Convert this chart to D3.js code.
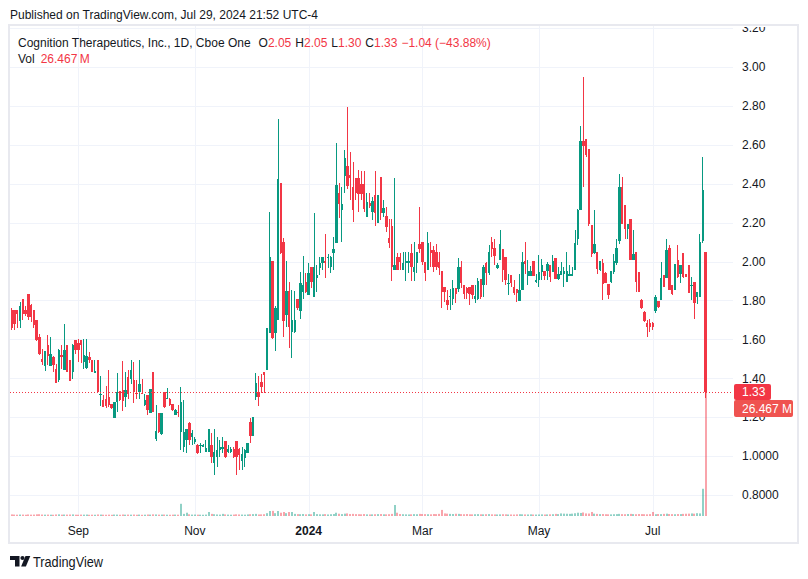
<!DOCTYPE html>
<html><head><meta charset="utf-8">
<script src="https://cdn.jsdelivr.net/npm/d3@7"></script>
<style>
html,body{margin:0;padding:0;background:#fff;}
svg{display:block;font-family:"Liberation Sans",Arial,sans-serif;}
</style></head><body>
<svg id="c" width="808" height="579"></svg>
<script>
// ---------- DATA ----------
const startDate = "2023-07-31", endDate = "2024-07-29";
const holidays = ["2023-09-04","2023-11-23","2023-12-25","2024-01-01","2024-01-15","2024-02-19","2024-03-29","2024-05-27","2024-06-19","2024-07-04"];

const open = [
1.75,1.75,1.75,1.694,1.809,1.749,1.831,1.779,1.749,1.697,
1.612,1.497,1.463,1.569,1.462,1.509,1.450,1.393,1.518,1.441,
1.569,1.492,1.433,1.598,1.581,1.598,1.484,1.455,1.509,1.496,
1.427,1.496,1.313,1.287,1.296,1.304,1.267,1.197,1.279,1.335,
1.339,1.304,1.404,1.395,1.390,1.325,1.330,1.325,1.262,1.313,
1.222,1.433,1.086,1.219,1.113,1.327,1.296,1.296,1.267,1.210,
1.227,
1.126,1.049,1.083,1.172,1.100,1.074,1.057,1.052,1.049,
1.023,1.023,1.057,0.963,0.997,1.032,1.035,1.078,1.023,1.023,
1.035,1.078,1.035,0.977,0.989,1.014,1.177,1.103,1.305,1.328,
1.383,1.434,1.442,1.631,2.002,1.631,1.699,2.405,2.102,1.725,
1.850,1.639,1.639,1.810,1.747,1.845,1.896,1.828,1.973,1.819,
1.917,1.965,1.990,2.004,2.016,1.973,2.042,2.096,2.353,2.264,
2.439,2.492,2.444,2.381,2.432,2.432,2.401,2.401,2.230,2.302,
2.256,2.341,2.199,
2.435,2.250,2.233,2.122,2.182,1.959,2.021,2.021,1.959,1.990,
1.990,2.042,1.947,1.990,2.090,2.101,1.999,1.956,2.059,2.059,
2.047,1.999,1.951,1.870,1.802,1.816,1.810,1.865,1.857,1.973,
1.879,1.862,1.870,1.879,1.810,1.810,1.908,1.879,1.990,1.939,
2.101,2.070,1.967,2.006,2.066,2.024,1.887,1.930,1.870,1.861,
1.798,1.853,2.001,1.924,1.924,2.001,1.895,1.904,1.947,1.952,
1.952,1.981,1.947,2.020,1.912,1.930,1.938,1.895,1.924,1.924,
1.959,2.118,2.266,2.622,2.631,2.579,2.186,2.044,2.049,
1.955,1.990,1.942,1.887,1.896,1.947,1.990,2.106,2.383,2.289,
2.169,2.220,2.007,2.048,1.947,1.801,1.742,1.682,1.682,1.682,
1.747,1.798,1.801,1.930,1.916,2.072,1.878,1.853,2.010,1.935,
2.046,1.938,1.981,1.875,1.896,1.819,1.819,2.104,2.05];

const high = [
1.76,1.75,1.75,1.79,1.809,1.77,1.831,1.78,1.75,1.70,
1.629,1.55,1.54,1.621,1.612,1.513,1.475,1.552,1.569,1.677,
1.569,1.492,1.578,1.598,1.603,1.598,1.603,1.603,1.535,1.496,
1.492,1.496,1.410,1.313,1.359,1.441,1.27,1.28,1.427,1.335,
1.489,1.433,1.441,1.496,1.484,1.390,1.496,1.398,1.321,1.313,
1.347,1.433,1.262,1.22,1.22,1.327,1.351,1.30,1.27,1.24,
1.262,
1.353,1.288,1.14,1.177,1.134,1.10,1.06,1.066,1.06,
1.083,1.138,1.117,1.138,1.100,1.083,1.100,1.08,1.057,1.049,
1.049,1.08,1.04,1.049,1.035,1.066,1.194,1.203,1.425,1.412,
1.422,1.434,1.656,2.256,2.002,1.771,2.732,2.405,2.119,2.002,
1.893,1.853,1.850,1.81,1.947,2.028,1.939,1.990,1.973,2.252,
1.982,2.021,2.024,2.141,2.038,2.028,2.127,2.607,2.405,2.384,
2.572,2.795,2.564,2.512,2.432,2.470,2.466,2.466,2.350,2.353,
2.333,2.466,2.341,
2.435,2.316,2.281,2.221,2.221,2.432,2.045,2.045,2.047,2.047,
2.047,2.090,2.101,2.047,2.281,2.101,1.999,2.153,2.101,2.079,
2.090,2.047,1.951,1.870,1.853,1.857,1.905,1.865,2.016,2.004,
1.879,1.870,1.870,1.879,1.879,1.913,1.908,1.982,1.999,2.083,
2.126,2.118,1.99,2.160,2.066,2.024,1.938,1.930,1.907,1.861,
1.938,2.049,2.101,2.006,1.976,2.001,1.938,2.032,2.015,1.952,
1.998,1.981,2.032,2.020,1.972,1.998,1.972,2.049,1.981,1.972,
2.160,2.272,2.699,2.950,2.631,2.579,2.186,2.266,2.049,
2.003,2.015,1.945,1.887,1.95,2.041,2.118,2.451,2.434,2.289,
2.191,2.220,2.161,2.048,1.947,1.805,1.745,1.699,1.707,1.690,
1.827,1.798,1.998,1.930,2.118,2.084,1.878,1.986,2.087,1.981,
2.046,1.938,1.981,1.921,1.896,1.841,2.140,2.537,2.05];

const low = [
1.65,1.65,1.66,1.658,1.70,1.72,1.70,1.69,1.66,1.59,
1.518,1.47,1.436,1.467,1.462,1.433,1.376,1.381,1.450,1.441,
1.433,1.386,1.398,1.527,1.484,1.479,1.450,1.450,1.480,1.433,
1.427,1.327,1.257,1.253,1.245,1.253,1.24,1.197,1.227,1.284,
1.231,1.253,1.296,1.373,1.274,1.296,1.296,1.321,1.257,1.210,
1.222,1.227,1.079,1.12,1.11,1.245,1.296,1.26,1.23,1.21,
1.202,
1.032,1.023,1.014,1.057,1.057,1.06,1.01,1.014,1.045,
1.023,1.023,0.963,0.903,0.946,0.997,1.014,0.99,1.014,1.014,
0.989,0.903,0.929,0.929,0.946,1.014,1.066,1.103,1.288,1.257,
1.323,1.323,1.442,1.631,1.600,1.542,1.699,2.04,1.614,1.665,
1.554,1.502,1.631,1.75,1.703,1.810,1.836,1.828,1.862,1.819,
1.845,1.930,1.956,1.913,1.965,1.942,1.956,2.096,2.226,2.102,
2.350,2.375,2.316,2.204,2.316,2.256,2.316,2.256,2.230,2.273,
2.216,2.182,2.199,
2.213,2.230,2.153,2.072,1.901,1.959,1.959,1.959,1.956,1.901,
1.939,1.901,1.901,1.939,2.042,1.982,1.901,1.956,1.973,1.947,
1.956,1.930,1.759,1.793,1.751,1.751,1.776,1.785,1.845,1.862,
1.810,1.810,1.776,1.810,1.785,1.802,1.810,1.819,1.879,1.930,
2.024,1.981,1.96,2.006,1.895,1.878,1.827,1.870,1.827,1.793,
1.798,1.853,1.938,1.878,1.924,1.924,1.890,1.870,1.904,1.904,
1.904,1.895,1.947,1.912,1.904,1.930,1.870,1.895,1.924,1.924,
1.959,2.083,2.266,2.383,2.537,2.181,2.024,2.041,1.938,
1.95,1.801,1.89,1.810,1.89,1.938,1.981,2.092,2.191,2.118,
2.118,2.007,2.007,1.844,1.844,1.755,1.69,1.613,1.639,1.648,
1.733,1.759,1.801,1.870,1.916,1.853,1.827,1.853,1.913,1.890,
1.913,1.921,1.836,1.801,1.707,1.784,1.819,2.096,1.30];

const close = [
1.66,1.68,1.73,1.769,1.732,1.732,1.715,1.715,1.672,1.595,
1.527,1.484,1.539,1.513,1.527,1.467,1.376,1.547,1.509,1.547,
1.433,1.386,1.569,1.544,1.547,1.569,1.518,1.513,1.492,1.433,
1.436,1.327,1.321,1.253,1.257,1.262,1.245,1.279,1.330,1.287,
1.284,1.339,1.321,1.441,1.330,1.321,1.369,1.321,1.287,1.236,
1.347,1.227,1.128,1.125,1.219,1.253,1.301,1.265,1.236,1.236,
1.219,
1.280,1.126,1.138,1.083,1.117,1.086,1.018,1.057,1.057,
1.040,1.138,0.997,1.023,1.032,1.049,1.049,0.997,1.035,1.035,
0.997,0.997,1.006,1.011,1.032,1.066,1.103,1.203,1.374,1.305,
1.357,1.417,1.656,2.024,1.605,1.763,2.423,2.042,1.696,1.850,
1.665,1.699,1.699,1.759,1.891,1.879,1.845,1.939,1.896,1.973,
1.930,1.990,2.024,1.990,2.021,2.024,2.067,2.393,2.295,2.298,
2.533,2.387,2.432,2.264,2.350,2.346,2.346,2.268,2.307,2.285,
2.310,2.250,2.341,
2.247,2.273,2.179,2.096,1.973,1.982,1.959,1.999,1.990,2.002,
2.002,1.970,1.970,2.047,2.067,1.999,1.939,2.096,2.042,1.970,
1.970,1.965,1.845,1.845,1.776,1.822,1.862,1.833,1.973,1.888,
1.833,1.836,1.833,1.828,1.822,1.901,1.816,1.973,1.939,2.050,
2.066,2.027,1.981,2.089,1.955,1.907,1.890,1.890,1.836,1.839,
1.856,1.998,1.989,1.952,1.952,1.924,1.907,1.947,1.981,1.924,
1.989,1.918,2.001,1.912,1.938,1.952,1.952,1.952,1.938,1.938,
2.095,2.266,2.619,2.596,2.550,2.195,2.041,2.092,1.964,
2.002,1.887,1.892,1.827,1.950,2.003,2.070,2.383,2.195,2.169,
2.191,2.007,2.041,1.896,1.844,1.759,1.695,1.665,1.665,1.665,
1.819,1.767,1.913,1.870,2.058,1.853,1.831,1.986,1.921,1.981,
1.921,1.921,1.839,1.878,1.788,1.841,2.101,2.369,1.33];

// volume in millions
const volume = [
0.34,0.30,0.28,0.31,0.30,0.27,0.33,0.29,0.30,0.36,
0.38,0.31,0.29,0.30,0.28,0.27,0.33,0.35,0.29,0.31,
0.30,0.32,0.34,0.28,0.27,0.30,0.29,0.31,0.26,0.28,
0.27,0.33,0.30,0.28,0.27,0.29,0.26,0.31,0.30,0.27,
0.32,0.28,0.30,0.29,0.31,0.27,0.30,0.26,0.28,0.32,
0.30,0.35,0.33,0.29,0.30,0.31,0.28,0.27,0.29,0.30,
0.28,2.60,0.45,0.70,0.36,0.30,0.31,0.29,0.28,0.27,
0.30,0.85,0.45,0.38,0.33,0.30,0.45,0.34,0.30,0.28,
0.30,0.36,0.33,0.31,0.29,0.34,0.38,0.40,0.45,0.33,
0.35,0.38,0.60,1.07,1.10,0.60,1.07,0.70,0.85,0.60,
0.85,0.85,0.45,0.40,0.38,0.42,0.35,0.38,0.36,0.85,
0.40,0.36,0.35,0.40,0.33,0.38,0.42,0.70,0.48,0.40,
0.50,0.55,0.42,0.45,0.40,0.38,0.36,0.42,0.35,0.33,
0.35,0.38,0.40,0.42,0.36,0.35,0.38,0.45,2.35,0.70,
0.42,0.38,0.35,0.33,0.36,0.40,0.38,0.45,0.42,0.40,
0.38,0.36,0.42,0.40,0.45,1.30,0.55,0.50,0.45,0.42,
0.48,0.45,0.40,0.38,0.42,0.36,0.35,0.38,0.40,0.36,
0.35,0.38,0.40,0.36,0.34,0.33,0.35,0.38,0.36,0.32,
0.33,0.31,0.35,0.38,0.36,0.34,0.33,0.35,0.32,0.31,
0.33,0.35,0.32,0.34,0.36,0.38,0.45,0.40,0.55,0.50,
0.48,0.45,0.50,0.58,0.70,0.65,0.75,0.55,0.52,0.86,
0.50,0.45,0.40,0.42,0.38,0.36,0.35,0.38,0.40,0.45,
0.40,0.38,0.42,0.45,0.40,0.38,0.42,0.40,0.38,0.36,
0.40,0.86,0.38,0.42,0.40,0.45,0.50,0.42,0.40,0.38,
0.42,0.40,0.45,0.48,0.50,0.55,0.50,0.60,0.55,5.81,
26.467];

const priceTicks = [0.8,1.0,1.2,1.4,1.6,1.8,2.0,2.2,2.4,2.6,2.8,3.0,3.2];
const priceTickLabels = ["0.8000","1.0000","1.20","1.40","1.60","1.80","2.00","2.20","2.40","2.60","2.80","3.00","3.20"];
const monthTicks = ["2023-09","2023-11","2024-01","2024-03","2024-05","2024-07"];
const monthLabels = ["Sep","Nov","2024","Mar","May","Jul"];
const lastClose = 1.33, lastVolumeLabel = "26.467 M";

// ---------- DRAW ----------
const UP = "#089981", DOWN = "#f23645";
const UPV = "rgba(8,153,129,0.45)", DOWNV = "rgba(242,54,69,0.45)";
const svg = d3.select("#c");
const paneL = 10, paneR = 733, paneT = 26, paneB = 516;

const parse = d3.utcParse("%Y-%m-%d"), fmt = d3.utcFormat("%Y-%m-%d");
const hol = new Set(holidays);
const dates = d3.utcDay.range(parse(startDate), d3.utcDay.offset(parse(endDate), 1))
  .filter(d => d.getUTCDay() % 6 !== 0 && !hol.has(fmt(d))).map(fmt);
const n = Math.min(dates.length, open.length);
const bars = d3.range(n).map(i => ({d: dates[i], o: open[i], h: high[i], l: low[i], c: close[i], v: volume[i]}));

const x = d3.scalePoint().domain(dates).range([11.7, 705.5]);
const y = d3.scaleLinear().domain([0.8, 3.0]).range([495, 67]);
const yv = d3.scaleLinear().domain([0, 26.467]).range([paneB, 392]);

svg.append("rect").attr("width", 808).attr("height", 579).attr("fill", "#fff");

const defs = svg.append("defs");
defs.append("clipPath").attr("id", "pane").append("rect")
  .attr("x", paneL).attr("y", paneT).attr("width", paneR - paneL).attr("height", paneB - paneT);
defs.append("clipPath").attr("id", "axis").append("rect")
  .attr("x", paneR).attr("y", 27).attr("width", 64).attr("height", paneB - 27);

// grid
const grid = svg.append("g").attr("clip-path", "url(#pane)");
grid.selectAll("line.h").data(priceTicks).join("line")
  .attr("x1", paneL).attr("x2", paneR)
  .attr("y1", d => Math.round(y(d)) + 0.5).attr("y2", d => Math.round(y(d)) + 0.5)
  .attr("stroke", "#f0f3fa").attr("stroke-width", 1);
const monthFirst = monthTicks.map(m => dates.find(d => d.startsWith(m)));
grid.selectAll("line.v").data(monthFirst).join("line")
  .attr("x1", d => Math.round(x(d)) + 0.5).attr("x2", d => Math.round(x(d)) + 0.5)
  .attr("y1", paneT).attr("y2", paneB)
  .attr("stroke", "#f0f3fa").attr("stroke-width", 1);

// volume
const gv = svg.append("g").attr("clip-path", "url(#pane)");
gv.selectAll("rect").data(bars).join("rect")
  .attr("x", b => Math.round(x(b.d)) - 1)
  .attr("width", 2)
  .attr("y", b => yv(b.v))
  .attr("height", b => paneB - yv(b.v))
  .attr("fill", b => b.c >= b.o ? UPV : DOWNV);

// candles
const gc = svg.append("g").attr("clip-path", "url(#pane)");
gc.selectAll("rect.w").data(bars).join("rect")
  .attr("x", b => Math.floor(x(b.d)))
  .attr("width", 1)
  .attr("y", b => Math.round(y(b.h)))
  .attr("height", b => Math.max(1, Math.round(y(b.l)) - Math.round(y(b.h))))
  .attr("fill", b => b.c >= b.o ? UP : DOWN);
gc.selectAll("rect.b").data(bars).join("rect")
  .attr("x", b => Math.round(x(b.d) - 1.2))
  .attr("width", b => Math.round(x(b.d) + 1.2) - Math.round(x(b.d) - 1.2))
  .attr("y", b => Math.round(y(Math.max(b.o, b.c))))
  .attr("height", b => Math.max(1, Math.round(y(Math.min(b.o, b.c))) - Math.round(y(Math.max(b.o, b.c)))))
  .attr("fill", b => b.c >= b.o ? UP : DOWN);

// last price line
svg.append("line")
  .attr("x1", paneL).attr("x2", paneR)
  .attr("y1", Math.round(y(lastClose)) + 0.5).attr("y2", Math.round(y(lastClose)) + 0.5)
  .attr("stroke", DOWN).attr("stroke-width", 1).attr("stroke-dasharray", "1,2");

// price axis labels
const ga = svg.append("g").attr("clip-path", "url(#axis)");
ga.selectAll("text").data(priceTicks).join("text")
  .attr("x", 742).attr("y", d => y(d) + 4.3)
  .attr("font-size", 12).attr("fill", "#131722")
  .text((d, i) => priceTickLabels[i]);

// last price & volume labels
const yl = Math.round(y(lastClose));
svg.append("rect").attr("x", 734).attr("y", yl - 8).attr("width", 37).attr("height", 16).attr("rx", 2).attr("fill", DOWN);
svg.append("text").attr("x", 742).attr("y", yl + 4.3).attr("font-size", 12).attr("fill", "#fff").text(d3.format(".2f")(lastClose));
svg.append("rect").attr("x", 734).attr("y", yl + 8).attr("width", 59).attr("height", 17).attr("rx", 2).attr("fill", "#ef5350");
svg.append("text").attr("x", 742).attr("y", yl + 20.8).attr("font-size", 12).attr("fill", "#fff").text(lastVolumeLabel);

// time axis
svg.selectAll("text.t").data(monthFirst).join("text")
  .attr("x", d => x(d)).attr("y", 534.5)
  .attr("text-anchor", "middle").attr("font-size", 12).attr("fill", "#131722")
  .attr("font-weight", (d, i) => monthLabels[i] === "2024" ? "bold" : "normal")
  .text((d, i) => monthLabels[i]);

// frame
svg.append("rect").attr("x", 9).attr("y", 25).attr("width", 789).attr("height", 518)
  .attr("fill", "none").attr("stroke", "#e8e9ef").attr("stroke-width", 2);

// header texts
svg.append("text").attr("x", 10).attr("y", 19).attr("font-size", 12).attr("fill", "#131722")
  .text("Published on TradingView.com, Jul 29, 2024 21:52 UTC-4");

const t = svg.append("text").attr("x", 18).attr("y", 47).attr("font-size", 12).attr("fill", "#131722");
t.append("tspan").text("Cognition Therapeutics, Inc., 1D, Cboe One");
const ohlc = [["O", "2.05"], ["H", "2.05"], ["L", "1.30"], ["C", "1.33"]];
ohlc.forEach(([k, v], i) => {
  t.append("tspan").attr("dx", i === 0 ? 8 : 4).text(k);
  t.append("tspan").attr("fill", DOWN).text(v);
});
t.append("tspan").attr("dx", 4).attr("fill", DOWN).text("\u22121.04 (\u221243.88%)");

const tv = svg.append("text").attr("x", 18).attr("y", 63).attr("font-size", 12).attr("fill", "#131722");
tv.append("tspan").text("Vol");
tv.append("tspan").attr("dx", 6).attr("fill", DOWN).text("26.467\u2009M");

// logo
const logo = svg.append("g").attr("fill", "#131722");
logo.append("path").attr("d", "M10,556 h9.5 v10.5 h-4.5 v-6.5 h-5 z");
logo.append("circle").attr("cx", 22.5).attr("cy", 558).attr("r", 2.1);
logo.append("path").attr("d", "M25.5,556 h4.8 l-4.4,10.5 h-4.8 z");
svg.append("text").attr("x", 33).attr("y", 566.5).attr("font-size", 14.5).attr("fill", "#131722")
  .attr("textLength", 70).attr("lengthAdjust", "spacingAndGlyphs").text("TradingView");
</script>
</body></html>
